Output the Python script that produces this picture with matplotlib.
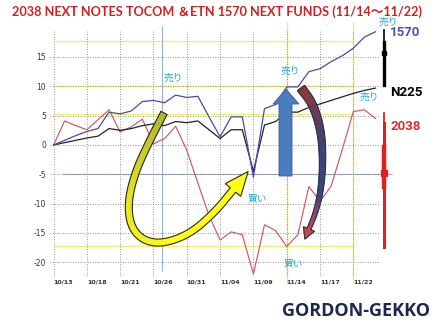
import numpy as np
import matplotlib
matplotlib.use('Agg')
import matplotlib.pyplot as plt
from matplotlib.patches import Polygon
from matplotlib.colors import LinearSegmentedColormap

# trading days 10/13 - 11/25
dates = ['10/13', '10/14', '10/17', '10/18', '10/19', '10/20', '10/21', '10/24', '10/25', '10/26',
         '10/27', '10/28', '10/31', '11/01', '11/02', '11/04', '11/07', '11/08', '11/09', '11/10',
         '11/11', '11/14', '11/15', '11/16', '11/17', '11/18', '11/21', '11/22', '11/24', '11/25']

# cumulative change (%) of each series
etn_1570 = [0, 0.8, 1.6, 2.3, 2.8, 5.6, 5.3, 5.8, 7.4, 7.6, 7.2, 8.5, 8.1, 8.3, 4.8, 1.4, 4.8, 4.8,
            -5.5, 6.2, 6.9, 9.9, 9.9, 12.5, 13.0, 14.2, 15.2, 16.5, 18.4, 19.3]
n225 = [0, 0.4, 0.8, 1.2, 1.5, 2.8, 2.5, 2.8, 3.3, 3.6, 3.3, 4.0, 3.8, 4.1, 2.6, 1.1, 2.6, 2.6,
        -4.5, 3.4, 4.0, 5.6, 5.6, 6.4, 7.0, 7.6, 8.2, 8.8, 9.3, 9.7]
notes_2038 = [0, 4.1, 3.3, 2.6, 4.3, 6.0, 2.2, 3.1, 4.4, 0.2, 1.1, 3.2, -0.9, -6.5, -12.0, -16.2,
              -14.8, -15.3, -22.0, -13.6, -14.6, -17.3, -15.3, -7.1, -9.6, -7.0, -0.8, 5.7, 6.0, 4.5]

tick_step = 3
yticks = [-20, -15, -10, -5, 0, 5, 10, 15]
yellow_levels = [17.8, 10, 5.2, -17.3]


def chaikin(pts, n=4):
    p = np.asarray(pts, float)
    for _ in range(n):
        q = 0.75 * p[:-1] + 0.25 * p[1:]
        r = 0.25 * p[:-1] + 0.75 * p[1:]
        mid = np.empty((2 * len(q), 2))
        mid[0::2] = q
        mid[1::2] = r
        p = np.vstack([p[0], mid, p[-1]])
    return p


# draw a curved band arrow with colour gradient along it
def curved_arrow(ax, pts, w0, w1, head_w, head_len, cols, edge):
    c = chaikin(pts)
    d = np.gradient(c, axis=0)
    d /= np.linalg.norm(d, axis=1)[:, None]
    nrm = np.stack([-d[:, 1], d[:, 0]], axis=1)
    seg = np.r_[0, np.cumsum(np.linalg.norm(np.diff(c, axis=0), axis=1))]
    t = seg / seg[-1]
    w = w0 + (w1 - w0) * t
    L = c + nrm * w[:, None] / 2
    R = c - nrm * w[:, None] / 2
    cmap = LinearSegmentedColormap.from_list('g', cols)
    for i in range(len(c) - 1):
        col = cmap(t[i])
        ax.add_patch(Polygon([L[i], L[i + 1], R[i + 1], R[i]], closed=True,
                             fc=col, ec=col, lw=0.4))
    tip = c[-1] + d[-1] * head_len
    hl = c[-1] + nrm[-1] * head_w / 2
    hr = c[-1] - nrm[-1] * head_w / 2
    ax.add_patch(Polygon([hl, tip, hr], closed=True, fc=cmap(1.0), ec=cmap(1.0), lw=0.4))
    outline = np.vstack([L, hl, tip, hr, R[::-1]])
    ax.add_patch(Polygon(outline, closed=True, fill=False, ec=edge, lw=0.8))


fig = plt.figure(figsize=(4.4, 3.3), dpi=100)
fig.patch.set_facecolor('white')

ax = fig.add_axes([0.1141, 0.1606, 0.7495, 0.7485])
x = np.arange(len(dates))

ax.set_xlim(-0.3, 29.4)
ax.set_ylim(-22.5, 19.6)
ax.set_xticks(x[::tick_step])
ax.set_xticklabels(dates[::tick_step], ha='left', fontsize=4.5, fontweight='bold', color='#333333')
ax.set_yticks(yticks)
ax.set_yticklabels([str(v) for v in yticks], fontsize=5.5, color='#333333')
ax.tick_params(length=0, pad=3)
ax.tick_params(axis='x', pad=2)
for s in ax.spines.values():
    s.set_visible(False)
ax.grid(True, color='#777777', linestyle=(0, (1, 2)), lw=0.6, zorder=0)

# guide lines
ax.hlines(yellow_levels, 0, 27, color='#f0f070', lw=1, zorder=1)
vl = ax.vlines([21, 27], -23.5, 21, color='#f0f070', lw=1, zorder=1)
vl.set_clip_on(False)
bv = ax.vlines([9.8], -21.5, 20.2, color='#9ab0cc', lw=0.8, zorder=1)
bv.set_clip_on(False)
bh = ax.hlines([-5], 0.8, 30.5, color='#9ab0cc', lw=0.8, zorder=1)
bh.set_clip_on(False)

ax.plot(x, notes_2038, color='#d05050', lw=0.8, zorder=3)
ax.plot(x, n225, color='#222222', lw=0.9, zorder=3)
ax.plot(x, etn_1570, color='#4b4ba5', lw=0.9, zorder=3)

# overlay in pixel coordinates for the drawn annotations
ov = fig.add_axes([0, 0, 1, 1], zorder=5)
ov.set_xlim(0, 440)
ov.set_ylim(330, 0)
ov.axis('off')
ov.patch.set_alpha(0)

curved_arrow(ov, [(164, 113), (150, 140), (136, 170), (128, 200), (130, 225), (142, 240),
                  (162, 244), (190, 234), (215, 212), (233, 190)],
             7, 7, 20, 24, ['#b0b530', '#e0e020', '#ffff10', '#ffff10'], '#2a2a20')

curved_arrow(ov, [(301, 88), (313, 104), (321, 130), (323, 160), (321, 190), (316, 212), (309, 229)],
             9, 4, 12, 11, ['#8e3434', '#5a3a55', '#34407a', '#3a4275', '#c04a4a'], '#2a3050')

ov.add_patch(Polygon([(279, 176), (279, 104), (273, 104), (286, 89), (299, 104), (292, 104), (292, 176)],
                     closed=True, fc='#4a7cc0', ec='#3a6098', lw=0.6))

# right-side bars
ov.plot([384, 384], [30, 85], color='black', lw=1.2)
ov.plot([384, 384], [42, 85], color='black', lw=2.4)
ov.plot([384], [53], marker='s', color='black', ms=3.5)
ov.plot([384, 384], [113, 247], color='#e02020', lw=1.3)
ov.plot([384, 384], [123, 247], color='#e02020', lw=2.2)
ov.plot([384, 384], [147, 187], color='#e02020', lw=3.2)
ov.plot([384], [173], marker='s', color='#e02020', ms=4)

lab = dict(family=['Roboto', 'DejaVu Sans'], fontweight='bold', fontsize=9.5,
           ha='center', va='center')
ov.text(405, 32, '1570', color='#5050a8', **lab)
ov.text(406, 92, 'N225', color='black', **lab)
ov.text(406, 126, '2038', color='#d83030', **lab)

jp = dict(family=['Noto Sans CJK JP'], fontsize=7, color='#22a8d0', ha='center', va='center')
ov.text(173, 78, '売り', **jp)
ov.text(388, 22, '売り', **jp)
ov.text(290, 71, '売り', **jp)
ov.text(369, 97, '売り', **jp)
ov.text(257, 198, '買い', **jp)
ov.text(293, 263, '買い', **jp)

ov.text(217, 12, '2038 NEXT NOTES TOCOM ＆ETN 1570 NEXT FUNDS (11/14～11/22)',
        family=['Lato', 'Noto Sans CJK JP'], fontweight='bold', fontsize=9.1, color='#d02020',
        ha='center', va='center')
ov.text(356, 311, 'GORDON-GEKKO', family=['Open Sans', 'DejaVu Sans'], fontweight='bold',
        fontsize=13, color='#1c2850', ha='center', va='center')

fig.savefig('out.png', dpi=100)
